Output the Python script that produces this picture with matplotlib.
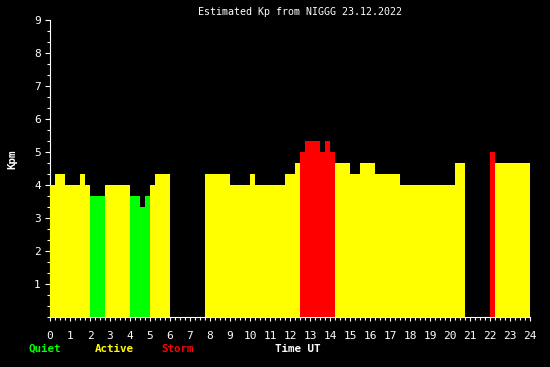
import matplotlib
matplotlib.use("Agg")
import matplotlib.pyplot as plt
from matplotlib.ticker import MultipleLocator
import numpy as np

# Kp estimate every 15 minutes, 23.12.2022 (nan = no data)
nan = np.nan
kp = [
    4.0, 4.33, 4.33, 4.0, 4.0, 4.0, 4.33, 4.0,            # 0-2
    3.67, 3.67, 3.67, 4.0, 4.0, 4.0, 4.0, 4.0,            # 2-4
    3.67, 3.67, 3.33, 3.67, 4.0, 4.33, 4.33, 4.33,        # 4-6
    nan, nan, nan, nan, nan, nan, nan, 4.33,              # 6-8
    4.33, 4.33, 4.33, 4.33, 4.0, 4.0, 4.0, 4.0,           # 8-10
    4.33, 4.0, 4.0, 4.0, 4.0, 4.0, 4.0, 4.33,             # 10-12
    4.33, 4.67, 5.0, 5.33, 5.33, 5.33, 5.0, 5.33,         # 12-14
    5.0, 4.67, 4.67, 4.67, 4.33, 4.33, 4.67, 4.67,        # 14-16
    4.67, 4.33, 4.33, 4.33, 4.33, 4.33, 4.0, 4.0,         # 16-18
    4.0, 4.0, 4.0, 4.0, 4.0, 4.0, 4.0, 4.0,               # 18-20
    4.0, 4.67, 4.67, nan, nan, nan, nan, nan,             # 20-22
    5.0, 4.67, 4.67, 4.67, 4.67, 4.67, 4.67, 4.67,        # 22-24
]
step = 0.25
hours = np.arange(len(kp)) * step

QUIET = "#00ff00"
ACTIVE = "#ffff00"
STORM = "#ff0000"

def level_color(v):
    if v < 4:
        return QUIET
    if v >= 5:
        return STORM
    return ACTIVE

W, H = 550, 367
fig = plt.figure(figsize=(W / 100, H / 100), dpi=100, facecolor="black")
ax = fig.add_axes([50 / W, 1 - 317.3 / H, 480 / W, 297.3 / H])
ax.set_facecolor("black")

mask = ~np.isnan(kp)
vals = np.array(kp)[mask]
cols = [level_color(v) for v in vals]
ax.bar(hours[mask], vals, width=step, align="edge", color=cols,
       linewidth=0, antialiased=False, zorder=3)

ax.set_xlim(0, 24)
ax.set_ylim(0, 9)
for s in ["top", "right"]:
    ax.spines[s].set_visible(False)
for s in ["left", "bottom"]:
    ax.spines[s].set_color("white")
    ax.spines[s].set_linewidth(0.8)
    ax.spines[s].set_zorder(2)

ax.xaxis.set_major_locator(MultipleLocator(1))
ax.xaxis.set_minor_locator(MultipleLocator(0.25))
ax.yaxis.set_major_locator(MultipleLocator(1))
ax.yaxis.set_minor_locator(MultipleLocator(1 / 3))
ax.set_yticks(range(1, 10))

ax.tick_params(axis="x", which="major", length=3, width=0.8, colors="white",
               pad=7, labelsize=8)
ax.tick_params(axis="x", which="minor", length=2.2, width=0.8, colors="white")
ax.tick_params(axis="y", which="major", length=3.6, width=0.8, colors="white",
               pad=3, labelsize=8)
ax.tick_params(axis="y", which="minor", length=2.2, width=0.8, colors="white")
for lab in ax.get_xticklabels() + ax.get_yticklabels():
    lab.set_family("DejaVu Sans Mono")

def label(x, y, s, color="white", bold=False, rot=0, size=7.8):
    fig.text(x / W, 1 - y / H, s, color=color, ha="center", va="center",
             family="DejaVu Sans Mono", size=size,
             weight="bold" if bold else "normal", rotation=rot)

label(300, 12, "Estimated Kp from NIGGG 23.12.2022", size=7.2)
label(12, 159, "Kpm", bold=True, rot=90)
label(44.5, 349, "Quiet", QUIET, True)
label(114.5, 349, "Active", ACTIVE, True)
label(177.5, 349, "Storm", STORM, True)
label(298, 349, "Time UT", bold=True)

fig.savefig("out.png", dpi=100, facecolor="black")
